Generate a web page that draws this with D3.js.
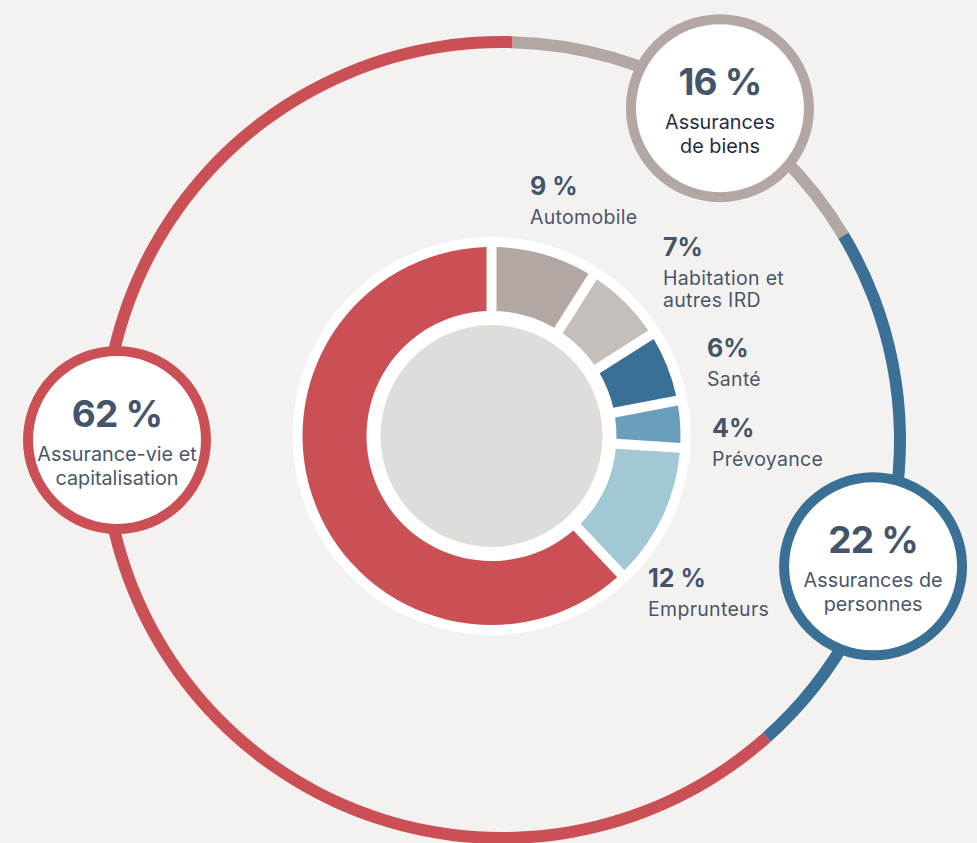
<!DOCTYPE html>
<html>
<head>
<meta charset="utf-8">
<script src="https://cdn.jsdelivr.net/npm/d3@7"></script>
<style>
  html, body { margin: 0; padding: 0; background: #f4f2f0; }
  svg { display: block; font-family: Inter, "Noto Sans", sans-serif; }
  .pct { font-weight: 700; fill: #44546a; }
  .name { fill: #4a5669; }
</style>
</head>
<body>
<div id="chart"></div>
<script>
// inner donut data (share of premiums, %)
const categories = ["Automobile", "Habitation et autres IRD", "Santé", "Prévoyance", "Emprunteurs", "Assurance-vie et capitalisation"];
const shares = [9, 7, 6, 4, 12, 62];
const pctLabels = ["9 %", "7%", "6%", "4%", "12 %", ""];
const nameLines = [["Automobile"], ["Habitation et", "autres IRD"], ["Santé"], ["Prévoyance"], ["Emprunteurs"], []];

// outer ring data
const groups = ["Assurances de biens", "Assurances de personnes", "Assurance-vie et capitalisation"];
const groupShares = [16, 22, 62];
const groupPct = ["16 %", "22 %", "62 %"];
const groupLines = [["Assurances", "de biens"], ["Assurances de", "personnes"], ["Assurance-vie et", "capitalisation"]];

// colours
const sliceColors = ["#b2a7a3", "#c4bfbb", "#3a7096", "#6a9fbc", "#a2c8d3", "#cb5055"];
const groupColors = ["#b2a7a3", "#3a7096", "#cb5055"];

// layout
const width = 977, height = 843;
const donut = {cx: 491.5, cy: 436, white: 199, outer: 189, inner: 125, core: 111};
const ring = {cx: 502, cy: 440, r: 398, w: 12, start: 1.5 * Math.PI / 180};
// bubble placement on the ring: angle (deg, clockwise from top) and distance
const bubblePos = [{a: 33.3, d: 397}, {a: 108.8, d: 392}, {a: 270, d: 385}];
const bubbleR = 89, bubbleStroke = 10;
// inner labels: left x and baseline of the percent line
const labelPos = [[530, 195], [663, 256], [707, 357], [712, 437], [648, 587]];

const svg = d3.select("#chart")
    .append("svg")
    .attr("width", width)
    .attr("height", height);

svg.append("rect")
    .attr("width", width)
    .attr("height", height)
    .attr("fill", "#f4f2f0");

// outer ring
const ringPie = d3.pie().sort(null)
    .startAngle(ring.start)
    .endAngle(ring.start + 2 * Math.PI);
const ringArc = d3.arc()
    .innerRadius(ring.r - ring.w / 2)
    .outerRadius(ring.r + ring.w / 2);

svg.append("g")
    .attr("transform", "translate(" + ring.cx + "," + ring.cy + ")")
    .selectAll("path")
    .data(ringPie(groupShares))
    .join("path")
    .attr("d", ringArc)
    .attr("fill", (d, i) => groupColors[i]);

// inner donut
const g = svg.append("g")
    .attr("transform", "translate(" + donut.cx + "," + donut.cy + ")");

g.append("circle").attr("r", donut.white).attr("fill", "#ffffff");

const pie = d3.pie().sort(null);
const arc = d3.arc()
    .innerRadius(donut.inner)
    .outerRadius(donut.outer)
    .padRadius(100)
    .padAngle(0.1);

g.selectAll("path")
    .data(pie(shares))
    .join("path")
    .attr("d", arc)
    .attr("fill", (d, i) => sliceColors[i]);

g.append("circle").attr("r", donut.core).attr("fill", "#e0dcd9");

// inner labels
labelPos.forEach((p, i) => {
    const t = svg.append("g").attr("transform", "translate(" + p[0] + "," + p[1] + ")");
    t.append("text")
        .attr("class", "pct")
        .attr("font-size", 25)
        .text(pctLabels[i]);
    nameLines[i].forEach((line, j) => {
        t.append("text")
            .attr("class", "name")
            .attr("font-size", 19.5)
            .attr("letter-spacing", 0.3)
            .attr("y", 29 + j * 21.7)
            .text(line);
    });
});

// bubbles
groups.forEach((grp, i) => {
    const a = bubblePos[i].a * Math.PI / 180;
    const x = ring.cx + bubblePos[i].d * Math.sin(a);
    const y = ring.cy - bubblePos[i].d * Math.cos(a);
    const b = svg.append("g").attr("transform", "translate(" + x + "," + y + ")");
    b.append("circle")
        .attr("r", bubbleR)
        .attr("fill", "#ffffff")
        .attr("stroke", groupColors[i])
        .attr("stroke-width", bubbleStroke);
    b.append("text")
        .attr("class", "pct")
        .attr("text-anchor", "middle")
        .attr("font-size", 37)
        .attr("letter-spacing", -0.8)
        .attr("y", -13)
        .text(groupPct[i]);
    groupLines[i].forEach((line, j) => {
        b.append("text")
            .attr("class", "name")
            .attr("text-anchor", "middle")
            .attr("font-size", 19.8)
            .attr("y", 21 + j * 24)
            .style("fill", i == 0 ? "#1f2d44" : null)
            .text(line);
    });
});
</script>
</body>
</html>
